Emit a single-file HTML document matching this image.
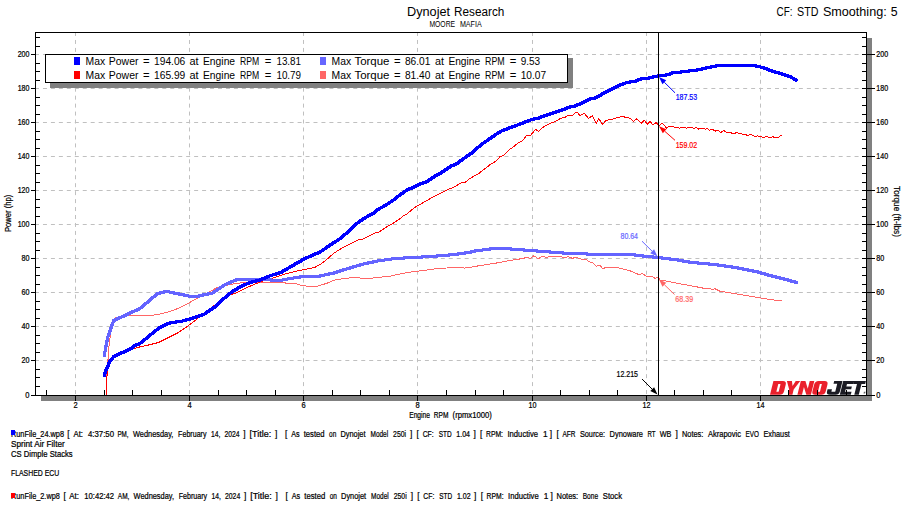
<!DOCTYPE html><html><head><meta charset="utf-8"><title>Dynojet Research</title>
<style>html,body{margin:0;padding:0;background:#fff;}body{width:910px;height:512px;overflow:hidden;font-family:"Liberation Sans",sans-serif;}svg{display:block;}text{font-family:"Liberation Sans",sans-serif;}</style></head><body>
<svg width="910" height="512" viewBox="0 0 910 512">
<rect width="910" height="512" fill="#fff"/>
<g stroke="#c0c0c0" stroke-width="1" stroke-dasharray="4 3.957" fill="none">
<path d="M35 360.5H866"/>
<path d="M35 326.5H866"/>
<path d="M35 292.5H866"/>
<path d="M35 258.5H866"/>
<path d="M35 224.5H866"/>
<path d="M35 190.5H866"/>
<path d="M35 156.5H866"/>
<path d="M35 122.5H866"/>
<path d="M35 88.5H866"/>
<path d="M35 54.5H866"/>
<path d="M75.5 32V395"/>
<path d="M189.5 32V395"/>
<path d="M303.5 32V395"/>
<path d="M417.5 32V395"/>
<path d="M532.5 32V395"/>
<path d="M646.5 32V395"/>
<path d="M760.5 32V395"/>
</g>
<g shape-rendering="crispEdges" fill="#808080">
<rect x="41" y="396" width="831" height="5"/>
<rect x="867" y="38" width="5" height="363"/>
<rect x="50" y="58" width="523" height="30"/>
</g>
<g fill="none" stroke-linejoin="round" stroke-linecap="round" shape-rendering="crispEdges"><path d="M106.10 395.00L106.30 386.00L106.70 378.00L107.60 366.40L108.60 350.00L109.80 339.00L111.70 327.30L114.50 319.00L116.50 317.20L127.25 315.60L140.00 315.60L149.75 315.60L158.50 314.40L168.50 311.90L177.25 308.75L188.50 303.10L198.50 297.50L208.50 292.30L216.25 288.10L225.00 285.70L235.00 283.60L245.00 282.40L260.00 282.10L280.00 282.25L286.25 283.10L295.00 283.50L300.00 285.00L307.50 286.25L317.50 286.25L327.60 283.00L334.60 280.00L345.10 278.30L357.40 277.30L361.00 278.30L369.75 278.30L380.30 277.25L390.80 276.00L397.90 274.30L408.40 272.50L415.40 271.30L422.50 270.75L429.50 269.50L441.80 268.10L459.40 267.75L462.00 266.90L464.60 268.10L470.00 267.30L481.00 265.40L495.00 263.30L509.20 260.60L521.50 258.70L526.80 257.50L530.30 258.40L533.80 255.70L538.20 258.70L542.60 256.25L546.10 257.50L551.40 256.25L560.20 256.25L563.70 258.00L568.10 256.60L572.50 258.40L576.00 257.10L581.30 259.25L586.50 259.75L590.00 262.20L593.60 263.30L596.20 266.30L599.70 265.00L602.40 268.40L609.40 267.10L612.90 268.00L616.40 267.10L620.00 268.40L630.00 270.75L638.75 274.50L642.50 273.75L647.50 277.00L651.25 276.25L655.00 278.25L658.25 277.50L660.00 280.00L665.00 280.75L680.00 283.75L697.50 287.00L706.25 288.75L708.75 288.00L712.50 289.50L715.00 288.75L720.00 291.25L735.00 293.75L750.00 296.25L765.00 298.75L778.75 300.75L781.75 300.25" stroke="#ff6666" stroke-width="1"/><path d="M106.10 395.00L106.20 386.00L106.70 378.10L107.70 370.30L109.30 364.50L111.60 359.60L114.50 356.60L122.50 352.50L130.00 349.80L137.25 347.50L148.50 345.00L158.50 342.50L168.50 337.50L178.50 332.50L188.50 325.60L196.00 320.00L202.25 314.60L208.50 310.00L212.50 306.75L222.50 299.75L231.25 294.40L237.50 292.50L245.00 288.30L252.50 285.20L260.00 282.00L270.00 278.90L280.00 275.80L287.50 273.30L297.50 270.80L303.75 269.75L315.00 267.25L321.00 264.00L326.30 259.90L333.80 253.20L343.90 247.00L352.60 242.60L358.90 239.70L361.40 239.70L367.70 236.80L373.90 233.40L378.90 232.00L387.70 226.20L391.50 224.30L399.00 219.30L404.00 215.50L406.50 214.60L410.30 211.10L415.00 207.25L432.50 197.25L436.10 195.30L446.10 190.40L453.60 187.20L461.20 182.85L464.90 182.50L469.90 178.50L478.70 173.50L483.70 169.70L490.00 164.70L496.20 160.90L500.00 156.60L503.80 155.30L510.00 149.00L512.30 147.90L517.30 143.50L522.30 141.00L526.10 136.00L530.50 135.40L535.50 129.40L538.60 131.60L542.40 127.60L548.60 124.10L554.90 121.60L561.20 118.10L564.30 117.80L568.10 115.30L572.40 115.30L574.90 113.10L577.50 112.60L580.00 115.60L584.30 113.40L588.70 118.50L592.50 115.60L596.30 123.50L598.80 118.50L602.50 124.40L606.30 120.30L610.00 119.50L611.60 119.40L617.90 117.50L622.60 116.60L629.60 118.10L633.50 121.25L636.90 118.60L641.30 123.30L644.40 120.20L647.25 124.10L649.90 121.40L653.00 124.80L656.20 122.50L658.80 125.60L662.50 123.30L664.60 125.40L666.30 128.20L669.10 126.40L671.90 126.40L679.40 128.20L682.20 127.20L686.90 128.20L688.80 127.20L694.40 128.20L696.30 127.20L698.20 129.10L701.00 128.20L705.70 129.10L707.50 128.20L709.40 130.20L712.20 129.40L716.00 131.20L717.90 130.00L720.70 132.80L723.50 130.30L726.30 132.40L734.80 133.40L736.90 132.40L739.00 133.40L747.40 135.20L751.60 134.50L754.50 136.60L757.30 135.90L762.90 137.30L767.10 136.60L769.90 137.70L772.70 136.60L775.60 138.00L778.40 137.30L781.20 135.20" stroke="#ff0000" stroke-width="1"/><path d="M102.8 354.6L106.0 337.1L106.5 336.5L108.5 336.5L109.0 337.1L109.0 338.9L105.8 356.4L105.2 357.0L103.3 357.0L102.8 356.4ZM106.0 337.1L112.2 319.6L112.8 319.0L114.7 319.0L115.2 319.6L115.2 321.4L109.0 338.9L108.5 339.5L106.5 339.5L106.0 338.9ZM112.2 319.6L112.8 319.0L126.5 312.8L128.4 312.8L129.0 313.3L129.0 315.2L128.4 315.8L114.7 322.0L112.8 322.0L112.2 321.4ZM126.0 313.3L126.5 312.8L139.1 307.0L140.9 307.0L141.5 307.6L141.5 309.4L140.9 310.0L128.4 315.8L126.5 315.8L126.0 315.2ZM138.5 307.6L139.1 307.0L149.1 298.5L150.9 298.5L151.5 299.1L151.5 300.9L150.9 301.5L140.9 310.0L139.1 310.0L138.5 309.4ZM148.5 299.1L149.1 298.5L156.6 292.2L158.4 292.2L159.0 292.8L159.0 294.7L158.4 295.2L150.9 301.5L149.1 301.5L148.5 300.9ZM156.0 292.8L156.6 292.2L165.3 289.8L167.2 289.8L167.8 290.3L167.8 292.2L167.2 292.8L158.4 295.2L156.6 295.2L156.0 294.7ZM164.8 290.3L165.3 289.8L167.2 289.8L178.4 292.2L179.0 292.8L179.0 294.7L178.4 295.2L176.6 295.2L165.3 292.8L164.8 292.2ZM176.0 292.8L176.6 292.2L178.4 292.2L190.9 294.8L191.5 295.3L191.5 297.2L190.9 297.8L189.1 297.8L176.6 295.2L176.0 294.7ZM188.5 295.3L189.1 294.8L198.4 294.8L199.0 295.3L199.0 297.2L198.4 297.8L189.1 297.8L188.5 297.2ZM196.0 295.3L196.6 294.8L211.6 291.5L213.4 291.5L214.0 292.1L214.0 293.9L213.4 294.5L198.4 297.8L196.6 297.8L196.0 297.2ZM211.0 292.1L211.6 291.5L224.1 283.2L225.9 283.2L226.5 283.8L226.5 285.7L225.9 286.2L213.4 294.5L211.6 294.5L211.0 293.9ZM223.5 283.8L224.1 283.2L236.6 277.8L238.4 277.8L239.0 278.3L239.0 280.2L238.4 280.8L225.9 286.2L224.1 286.2L223.5 285.7ZM236.0 278.3L236.6 277.8L238.4 277.8L250.9 278.0L251.5 278.6L251.5 280.4L250.9 281.0L249.1 281.0L236.6 280.8L236.0 280.2ZM248.5 278.6L249.1 278.0L250.9 278.0L265.9 278.2L266.5 278.8L266.5 280.7L265.9 281.2L264.1 281.2L249.1 281.0L248.5 280.4ZM263.5 278.8L264.1 278.2L265.9 278.2L280.9 279.0L281.5 279.6L281.5 281.4L280.9 282.0L279.1 282.0L264.1 281.2L263.5 280.7ZM278.5 279.6L279.1 279.0L289.1 277.0L290.9 277.0L291.5 277.6L291.5 279.4L290.9 280.0L280.9 282.0L279.1 282.0L278.5 281.4ZM288.5 277.6L289.1 277.0L302.8 275.0L304.7 275.0L305.2 275.6L305.2 277.4L304.7 278.0L290.9 280.0L289.1 280.0L288.5 279.4ZM302.2 275.6L302.8 275.0L319.1 274.5L320.9 274.5L321.5 275.1L321.5 276.9L320.9 277.5L304.7 278.0L302.8 278.0L302.2 277.4ZM318.5 275.1L319.1 274.5L333.7 271.3L335.6 271.3L336.1 271.9L336.1 273.8L335.6 274.3L320.9 277.5L319.1 277.5L318.5 276.9ZM333.1 271.9L333.7 271.3L347.8 266.8L349.6 266.8L350.2 267.4L350.2 269.2L349.6 269.8L335.6 274.3L333.7 274.3L333.1 273.8ZM347.2 267.4L347.8 266.8L361.8 262.7L363.6 262.7L364.2 263.2L364.2 265.1L363.6 265.7L349.6 269.8L347.8 269.8L347.2 269.2ZM361.2 263.2L361.8 262.7L375.9 259.6L377.8 259.6L378.3 260.2L378.3 262.1L377.8 262.6L363.6 265.7L361.8 265.7L361.2 265.1ZM375.3 260.2L375.9 259.6L393.4 257.1L395.3 257.1L395.9 257.7L395.9 259.6L395.3 260.1L377.8 262.6L375.9 262.6L375.3 262.1ZM392.9 257.7L393.4 257.1L414.4 255.8L416.3 255.8L416.9 256.4L416.9 258.2L416.3 258.8L395.3 260.1L393.4 260.1L392.9 259.6ZM413.9 256.4L414.4 255.8L428.6 255.2L430.4 255.2L431.0 255.8L431.0 257.6L430.4 258.2L416.3 258.8L414.4 258.8L413.9 258.2ZM428.0 255.8L428.6 255.2L440.9 254.1L442.8 254.1L443.3 254.7L443.3 256.6L442.8 257.1L430.4 258.2L428.6 258.2L428.0 257.6ZM440.3 254.7L440.9 254.1L454.9 252.9L456.8 252.9L457.4 253.5L457.4 255.3L456.8 255.9L442.8 257.1L440.9 257.1L440.3 256.6ZM454.4 253.5L454.9 252.9L469.1 250.7L470.9 250.7L471.5 251.2L471.5 253.1L470.9 253.7L456.8 255.9L454.9 255.9L454.4 255.3ZM468.5 251.2L469.1 250.7L474.1 249.5L475.9 249.5L476.5 250.1L476.5 251.9L475.9 252.5L470.9 253.7L469.1 253.7L468.5 253.1ZM473.5 250.1L474.1 249.5L489.1 247.5L490.9 247.5L491.5 248.1L491.5 249.9L490.9 250.5L475.9 252.5L474.1 252.5L473.5 251.9ZM488.5 248.1L489.1 247.5L501.6 246.8L503.4 246.8L504.0 247.3L504.0 249.2L503.4 249.8L490.9 250.5L489.1 250.5L488.5 249.9ZM501.0 247.3L501.6 246.8L503.4 246.8L518.5 248.0L519.0 248.6L519.0 250.4L518.5 251.0L516.5 251.0L501.6 249.8L501.0 249.2ZM516.0 248.6L516.5 248.0L518.5 248.0L533.5 249.2L534.0 249.8L534.0 251.7L533.5 252.2L531.5 252.2L516.5 251.0L516.0 250.4ZM531.0 249.8L531.5 249.2L533.5 249.2L566.0 251.7L566.5 252.2L566.5 254.1L566.0 254.7L564.0 254.7L531.5 252.2L531.0 251.7ZM563.5 252.2L564.0 251.7L566.0 251.7L588.5 252.5L589.0 253.1L589.0 254.9L588.5 255.5L586.5 255.5L564.0 254.7L563.5 254.1ZM586.0 253.1L586.5 252.5L588.5 252.5L613.5 252.9L614.0 253.5L614.0 255.3L613.5 255.9L611.5 255.9L586.5 255.5L586.0 254.9ZM611.0 253.5L611.5 252.9L630.8 252.9L631.3 253.5L631.3 255.3L630.8 255.9L611.5 255.9L611.0 255.3ZM628.3 253.5L628.8 252.9L630.8 252.9L642.6 254.4L643.1 255.0L643.1 256.9L642.6 257.4L640.6 257.4L628.8 255.9L628.3 255.3ZM640.1 255.0L640.6 254.4L642.6 254.4L659.5 256.1L660.0 256.7L660.0 258.6L659.5 259.1L657.5 259.1L640.6 257.4L640.1 256.9ZM657.0 256.7L657.5 256.1L659.5 256.1L676.2 258.1L676.8 258.7L676.8 260.6L676.2 261.1L674.3 261.1L657.5 259.1L657.0 258.6ZM673.8 258.7L674.3 258.1L676.2 258.1L690.1 260.5L690.6 261.1L690.6 262.9L690.1 263.5L688.1 263.5L674.3 261.1L673.8 260.6ZM687.6 261.1L688.1 260.5L690.1 260.5L701.0 261.8L701.5 262.4L701.5 264.2L701.0 264.8L699.0 264.8L688.1 263.5L687.6 262.9ZM698.5 262.4L699.0 261.8L701.0 261.8L716.0 263.0L716.5 263.6L716.5 265.4L716.0 266.0L714.0 266.0L699.0 264.8L698.5 264.2ZM713.5 263.6L714.0 263.0L716.0 263.0L736.0 266.0L736.5 266.6L736.5 268.4L736.0 269.0L734.0 269.0L714.0 266.0L713.5 265.4ZM733.5 266.6L734.0 266.0L736.0 266.0L756.0 269.8L756.5 270.3L756.5 272.2L756.0 272.8L754.0 272.8L734.0 269.0L733.5 268.4ZM753.5 270.3L754.0 269.8L756.0 269.8L771.0 274.0L771.5 274.6L771.5 276.4L771.0 277.0L769.0 277.0L754.0 272.8L753.5 272.2ZM768.5 274.6L769.0 274.0L771.0 274.0L786.0 277.8L786.5 278.3L786.5 280.2L786.0 280.8L784.0 280.8L769.0 277.0L768.5 276.4ZM783.5 278.3L784.0 277.8L786.0 277.8L797.7 281.0L798.2 281.6L798.2 283.4L797.7 284.0L795.8 284.0L784.0 280.8L783.5 280.2Z" fill="#6464ff" fill-rule="nonzero"/><path d="M102.8 374.6L104.0 370.1L104.5 369.5L106.5 369.5L107.0 370.1L107.0 371.9L105.8 376.4L105.2 377.0L103.3 377.0L102.8 376.4ZM104.0 370.1L106.0 365.8L106.5 365.2L108.5 365.2L109.0 365.8L109.0 367.7L107.0 371.9L106.5 372.5L104.5 372.5L104.0 371.9ZM106.0 365.8L108.5 360.1L109.0 359.5L111.0 359.5L111.5 360.1L111.5 361.9L109.0 367.7L108.5 368.2L106.5 368.2L106.0 367.7ZM108.5 360.1L112.2 355.8L112.8 355.2L114.7 355.2L115.2 355.8L115.2 357.7L111.5 361.9L111.0 362.5L109.0 362.5L108.5 361.9ZM112.2 355.8L112.8 355.2L117.0 353.0L119.0 353.0L119.5 353.6L119.5 355.4L119.0 356.0L114.7 358.2L112.8 358.2L112.2 357.7ZM116.5 353.6L117.0 353.0L121.5 351.0L123.5 351.0L124.0 351.6L124.0 353.4L123.5 354.0L119.0 356.0L117.0 356.0L116.5 355.4ZM121.0 351.6L121.5 351.0L129.1 347.8L130.9 347.8L131.5 348.3L131.5 350.2L130.9 350.8L123.5 354.0L121.5 354.0L121.0 353.4ZM128.5 348.3L129.1 347.8L134.1 344.0L135.9 344.0L136.5 344.6L136.5 346.4L135.9 347.0L130.9 350.8L129.1 350.8L128.5 350.2ZM133.5 344.6L134.1 344.0L139.1 342.0L140.9 342.0L141.5 342.6L141.5 344.4L140.9 345.0L135.9 347.0L134.1 347.0L133.5 346.4ZM138.5 342.6L139.1 342.0L149.1 333.8L150.9 333.8L151.5 334.4L151.5 336.2L150.9 336.8L140.9 345.0L139.1 345.0L138.5 344.4ZM148.5 334.4L149.1 333.8L157.6 326.8L159.4 326.8L160.0 327.4L160.0 329.2L159.4 329.8L150.9 336.8L149.1 336.8L148.5 336.2ZM157.0 327.4L157.6 326.8L165.1 323.0L166.9 323.0L167.5 323.6L167.5 325.4L166.9 326.0L159.4 329.8L157.6 329.8L157.0 329.2ZM164.5 323.6L165.1 323.0L170.1 321.1L171.9 321.1L172.5 321.7L172.5 323.6L171.9 324.1L166.9 326.0L165.1 326.0L164.5 325.4ZM169.5 321.7L170.1 321.1L180.1 319.9L181.9 319.9L182.5 320.4L182.5 322.3L181.9 322.9L171.9 324.1L170.1 324.1L169.5 323.6ZM179.5 320.4L180.1 319.9L189.1 317.5L190.9 317.5L191.5 318.1L191.5 319.9L190.9 320.5L181.9 322.9L180.1 322.9L179.5 322.3ZM188.5 318.1L189.1 317.5L196.6 315.1L198.4 315.1L199.0 315.7L199.0 317.6L198.4 318.1L190.9 320.5L189.1 320.5L188.5 319.9ZM196.0 315.7L196.6 315.1L202.8 313.0L204.7 313.0L205.2 313.6L205.2 315.4L204.7 316.0L198.4 318.1L196.6 318.1L196.0 317.6ZM202.2 313.6L202.8 313.0L208.2 309.3L210.0 309.3L210.6 309.9L210.6 311.8L210.0 312.3L204.7 316.0L202.8 316.0L202.2 315.4ZM207.6 309.9L208.2 309.3L211.6 306.9L213.4 306.9L214.0 307.4L214.0 309.3L213.4 309.9L210.0 312.3L208.2 312.3L207.6 311.8ZM211.0 307.4L211.6 306.9L214.1 305.4L215.9 305.4L216.5 305.9L216.5 307.8L215.9 308.4L213.4 309.9L211.6 309.9L211.0 309.3ZM213.5 305.9L214.1 305.4L222.8 297.2L224.7 297.2L225.2 297.8L225.2 299.7L224.7 300.2L215.9 308.4L214.1 308.4L213.5 307.8ZM222.2 297.8L222.8 297.2L231.6 289.9L233.4 289.9L234.0 290.4L234.0 292.3L233.4 292.9L224.7 300.2L222.8 300.2L222.2 299.7ZM231.0 290.4L231.6 289.9L240.3 284.9L242.2 284.9L242.8 285.4L242.8 287.3L242.2 287.9L233.4 292.9L231.6 292.9L231.0 292.3ZM239.8 285.4L240.3 284.9L249.1 280.9L250.9 280.9L251.5 281.4L251.5 283.3L250.9 283.9L242.2 287.9L240.3 287.9L239.8 287.3ZM248.5 281.4L249.1 280.9L259.1 278.5L260.9 278.5L261.5 279.1L261.5 280.9L260.9 281.5L250.9 283.9L249.1 283.9L248.5 283.3ZM258.5 279.1L259.1 278.5L269.1 274.3L270.9 274.3L271.5 274.9L271.5 276.8L270.9 277.3L260.9 281.5L259.1 281.5L258.5 280.9ZM268.5 274.9L269.1 274.3L280.3 270.8L282.2 270.8L282.8 271.3L282.8 273.2L282.2 273.8L270.9 277.3L269.1 277.3L268.5 276.8ZM279.8 271.3L280.3 270.8L289.1 265.6L290.9 265.6L291.5 266.2L291.5 268.1L290.9 268.6L282.2 273.8L280.3 273.8L279.8 273.2ZM288.5 266.2L289.1 265.6L296.6 261.3L298.4 261.3L299.0 261.9L299.0 263.8L298.4 264.3L290.9 268.6L289.1 268.6L288.5 268.1ZM296.0 261.9L296.6 261.3L302.9 257.7L304.8 257.7L305.3 258.2L305.3 260.1L304.8 260.7L298.4 264.3L296.6 264.3L296.0 263.8ZM302.3 258.2L302.9 257.7L311.6 253.7L313.4 253.7L314.0 254.2L314.0 256.1L313.4 256.7L304.8 260.7L302.9 260.7L302.3 260.1ZM311.0 254.2L311.6 253.7L319.1 250.5L320.9 250.5L321.5 251.1L321.5 252.9L320.9 253.5L313.4 256.7L311.6 256.7L311.0 256.1ZM318.5 251.1L319.1 250.5L329.2 243.7L331.1 243.7L331.6 244.2L331.6 246.1L331.1 246.7L320.9 253.5L319.1 253.5L318.5 252.9ZM328.6 244.2L329.2 243.7L340.4 236.3L342.3 236.3L342.9 236.9L342.9 238.8L342.3 239.3L331.1 246.7L329.2 246.7L328.6 246.1ZM339.9 236.9L340.4 236.3L347.9 229.5L349.8 229.5L350.4 230.1L350.4 231.9L349.8 232.5L342.3 239.3L340.4 239.3L339.9 238.8ZM347.4 230.1L347.9 229.5L356.7 221.4L358.6 221.4L359.1 222.0L359.1 223.8L358.6 224.4L349.8 232.5L347.9 232.5L347.4 231.9ZM356.1 222.0L356.7 221.4L364.2 216.2L366.1 216.2L366.7 216.8L366.7 218.6L366.1 219.2L358.6 224.4L356.7 224.4L356.1 223.8ZM363.7 216.8L364.2 216.2L371.8 212.3L373.6 212.3L374.2 212.9L374.2 214.8L373.6 215.3L366.1 219.2L364.2 219.2L363.7 218.6ZM371.2 212.9L371.8 212.3L376.8 208.0L378.6 208.0L379.2 208.6L379.2 210.4L378.6 211.0L373.6 215.3L371.8 215.3L371.2 214.8ZM376.2 208.6L376.8 208.0L384.2 204.1L386.1 204.1L386.7 204.7L386.7 206.5L386.1 207.1L378.6 211.0L376.8 211.0L376.2 210.4ZM383.7 204.7L384.2 204.1L391.8 199.1L393.6 199.1L394.2 199.7L394.2 201.5L393.6 202.1L386.1 207.1L384.2 207.1L383.7 206.5ZM391.2 199.7L391.8 199.1L398.1 194.1L399.9 194.1L400.5 194.7L400.5 196.5L399.9 197.1L393.6 202.1L391.8 202.1L391.2 201.5ZM397.5 194.7L398.1 194.1L406.4 188.3L408.2 188.3L408.8 188.9L408.8 190.8L408.2 191.3L399.9 197.1L398.1 197.1L397.5 196.5ZM405.8 188.9L406.4 188.3L415.1 184.7L416.9 184.7L417.5 185.2L417.5 187.1L416.9 187.7L408.2 191.3L406.4 191.3L405.8 190.8ZM414.5 185.2L415.1 184.7L420.2 182.1L422.1 182.1L422.6 182.7L422.6 184.5L422.1 185.1L416.9 187.7L415.1 187.7L414.5 187.1ZM419.6 182.7L420.2 182.1L425.2 180.7L427.1 180.7L427.6 181.2L427.6 183.1L427.1 183.7L422.1 185.1L420.2 185.1L419.6 184.5ZM424.6 181.2L425.2 180.7L435.2 173.9L437.1 173.9L437.6 174.5L437.6 176.3L437.1 176.9L427.1 183.7L425.2 183.7L424.6 183.1ZM434.6 174.5L435.2 173.9L440.2 171.4L442.1 171.4L442.6 172.0L442.6 173.8L442.1 174.4L437.1 176.9L435.2 176.9L434.6 176.3ZM439.6 172.0L440.2 171.4L450.2 164.5L452.1 164.5L452.6 165.1L452.6 166.9L452.1 167.5L442.1 174.4L440.2 174.4L439.6 173.8ZM449.6 165.1L450.2 164.5L455.2 162.6L457.1 162.6L457.7 163.2L457.7 165.0L457.1 165.6L452.1 167.5L450.2 167.5L449.6 166.9ZM454.7 163.2L455.2 162.6L462.8 157.0L464.6 157.0L465.2 157.6L465.2 159.4L464.6 160.0L457.1 165.6L455.2 165.6L454.7 165.0ZM462.2 157.6L462.8 157.0L470.2 152.0L472.1 152.0L472.7 152.6L472.7 154.4L472.1 155.0L464.6 160.0L462.8 160.0L462.2 159.4ZM469.7 152.6L470.2 152.0L476.6 146.4L478.4 146.4L479.0 147.0L479.0 148.8L478.4 149.4L472.1 155.0L470.2 155.0L469.7 154.4ZM476.0 147.0L476.6 146.4L482.8 141.4L484.6 141.4L485.2 142.0L485.2 143.8L484.6 144.4L478.4 149.4L476.6 149.4L476.0 148.8ZM482.2 142.0L482.8 141.4L490.2 136.3L492.1 136.3L492.7 136.9L492.7 138.8L492.1 139.3L484.6 144.4L482.8 144.4L482.2 143.8ZM489.7 136.9L490.2 136.3L495.1 132.8L496.9 132.8L497.5 133.4L497.5 135.2L496.9 135.8L492.1 139.3L490.2 139.3L489.7 138.8ZM494.5 133.4L495.1 132.8L501.4 129.1L503.2 129.1L503.8 129.7L503.8 131.5L503.2 132.1L496.9 135.8L495.1 135.8L494.5 135.2ZM500.8 129.7L501.4 129.1L510.1 125.9L511.9 125.9L512.5 126.5L512.5 128.3L511.9 128.9L503.2 132.1L501.4 132.1L500.8 131.5ZM509.5 126.5L510.1 125.9L520.1 122.2L522.1 122.2L522.6 122.8L522.6 124.7L522.1 125.2L511.9 128.9L510.1 128.9L509.5 128.3ZM519.6 122.8L520.1 122.2L531.3 117.8L533.2 117.8L533.8 118.3L533.8 120.2L533.2 120.8L522.1 125.2L520.1 125.2L519.6 124.7ZM530.8 118.3L531.3 117.8L536.4 117.1L538.4 117.1L538.9 117.6L538.9 119.5L538.4 120.1L533.2 120.8L531.3 120.8L530.8 120.2ZM535.9 117.6L536.4 117.1L542.6 114.6L544.6 114.6L545.1 115.1L545.1 117.0L544.6 117.6L538.4 120.1L536.4 120.1L535.9 119.5ZM542.1 115.1L542.6 114.6L550.1 112.0L552.1 112.0L552.6 112.5L552.6 114.5L552.1 115.0L544.6 117.6L542.6 117.6L542.1 117.0ZM549.6 112.5L550.1 112.0L560.2 108.9L562.2 108.9L562.7 109.5L562.7 111.4L562.2 111.9L552.1 115.0L550.1 115.0L549.6 114.5ZM559.7 109.5L560.2 108.9L567.8 105.8L569.7 105.8L570.2 106.3L570.2 108.2L569.7 108.8L562.2 111.9L560.2 111.9L559.7 111.4ZM567.2 106.3L567.8 105.8L573.9 104.5L575.9 104.5L576.4 105.0L576.4 107.0L575.9 107.5L569.7 108.8L567.8 108.8L567.2 108.2ZM573.4 105.0L573.9 104.5L582.8 100.8L584.7 100.8L585.2 101.3L585.2 103.2L584.7 103.8L575.9 107.5L573.9 107.5L573.4 107.0ZM582.2 101.3L582.8 100.8L589.0 97.6L591.0 97.6L591.5 98.1L591.5 100.0L591.0 100.6L584.7 103.8L582.8 103.8L582.2 103.2ZM588.5 98.1L589.0 97.6L594.0 96.5L596.0 96.5L596.5 97.0L596.5 99.0L596.0 99.5L591.0 100.6L589.0 100.6L588.5 100.0ZM593.5 97.0L594.0 96.5L600.3 93.3L602.2 93.3L602.8 93.8L602.8 95.8L602.2 96.3L596.0 99.5L594.0 99.5L593.5 99.0ZM599.8 93.8L600.3 93.3L602.8 91.5L604.8 91.5L605.3 92.0L605.3 94.0L604.8 94.5L602.2 96.3L600.3 96.3L599.8 95.8ZM602.3 92.0L602.8 91.5L610.6 87.5L612.6 87.5L613.1 88.0L613.1 90.0L612.6 90.5L604.8 94.5L602.8 94.5L602.3 94.0ZM610.1 88.0L610.6 87.5L618.4 83.9L620.4 83.9L620.9 84.5L620.9 86.4L620.4 86.9L612.6 90.5L610.6 90.5L610.1 90.0ZM617.9 84.5L618.4 83.9L626.3 80.8L628.2 80.8L628.8 81.3L628.8 83.2L628.2 83.8L620.4 86.9L618.4 86.9L617.9 86.4ZM625.8 81.3L626.3 80.8L632.5 80.2L634.5 80.2L635.0 80.8L635.0 82.7L634.5 83.2L628.2 83.8L626.3 83.8L625.8 83.2ZM632.0 80.8L632.5 80.2L641.9 77.0L643.9 77.0L644.4 77.5L644.4 79.5L643.9 80.0L634.5 83.2L632.5 83.2L632.0 82.7ZM641.4 77.5L641.9 77.0L648.1 76.5L650.1 76.5L650.6 77.0L650.6 79.0L650.1 79.5L643.9 80.0L641.9 80.0L641.4 79.5ZM647.6 77.0L648.1 76.5L657.5 74.3L659.5 74.3L660.0 74.8L660.0 76.8L659.5 77.3L650.1 79.5L648.1 79.5L647.6 79.0ZM657.0 74.8L657.5 74.3L666.9 73.3L668.9 73.3L669.4 73.8L669.4 75.8L668.9 76.3L659.5 77.3L657.5 77.3L657.0 76.8ZM666.4 73.8L666.9 73.3L671.6 71.4L673.6 71.4L674.1 72.0L674.1 73.9L673.6 74.4L668.9 76.3L666.9 76.3L666.4 75.8ZM671.1 72.0L671.6 71.4L682.5 70.2L684.5 70.2L685.0 70.8L685.0 72.7L684.5 73.2L673.6 74.4L671.6 74.4L671.1 73.9ZM682.0 70.8L682.5 70.2L695.0 68.7L697.0 68.7L697.5 69.2L697.5 71.2L697.0 71.7L684.5 73.2L682.5 73.2L682.0 72.7ZM694.5 69.2L695.0 68.7L704.0 66.8L706.0 66.8L706.5 67.3L706.5 69.2L706.0 69.8L697.0 71.7L695.0 71.7L694.5 71.2ZM703.5 67.3L704.0 66.8L711.0 65.2L713.0 65.2L713.5 65.8L713.5 67.7L713.0 68.2L706.0 69.8L704.0 69.8L703.5 69.2ZM710.5 65.8L711.0 65.2L717.2 64.0L719.2 64.0L719.7 64.5L719.7 66.5L719.2 67.0L713.0 68.2L711.0 68.2L710.5 67.7ZM716.7 64.5L717.2 64.0L736.0 64.0L736.5 64.5L736.5 66.5L736.0 67.0L717.2 67.0L716.7 66.5ZM733.5 64.5L734.0 64.0L754.4 64.0L754.9 64.5L754.9 66.5L754.4 67.0L734.0 67.0L733.5 66.5ZM751.9 64.5L752.4 64.0L754.4 64.0L759.0 64.8L759.5 65.3L759.5 67.2L759.0 67.8L757.0 67.8L752.4 67.0L751.9 66.5ZM756.5 65.3L757.0 64.8L759.0 64.8L764.7 66.4L765.2 67.0L765.2 68.9L764.7 69.4L762.8 69.4L757.0 67.8L756.5 67.2ZM762.2 67.0L762.8 66.4L764.7 66.4L772.2 69.3L772.7 69.8L772.7 71.8L772.2 72.3L770.2 72.3L762.8 69.4L762.2 68.9ZM769.7 69.8L770.2 69.3L772.2 69.3L784.7 72.9L785.2 73.5L785.2 75.4L784.7 75.9L782.8 75.9L770.2 72.3L769.7 71.8ZM782.2 73.5L782.8 72.9L784.7 72.9L792.2 75.7L792.7 76.2L792.7 78.2L792.2 78.7L790.2 78.7L782.8 75.9L782.2 75.4ZM789.7 76.2L790.2 75.7L792.2 75.7L797.2 78.8L797.8 79.3L797.8 81.2L797.2 81.8L795.3 81.8L790.2 78.7L789.7 78.2Z" fill="#0000ff" fill-rule="nonzero"/></g>
<g transform="translate(770 394.8) skewX(-13.8)" fill-rule="evenodd">
<g fill="#ea202c">
<path d="M0 0H9.5Q13.2 0 13.2 -3.5V-10.4Q13.2 -13.9 9.5 -13.9H0ZM5.6 -3H7.4Q7.9 -3 7.9 -3.5V-10.4Q7.9 -10.9 7.4 -10.9H5.6Z"/>
<path transform="translate(13.5 0)" d="M0 -13.9H5L6.9 -8.8L8.8 -13.9H13.3L8.9 -5.2V0H4.4V-5.2Z"/>
<path transform="translate(27.4 0)" d="M0 0V-13.9H4.6L8.9 -6V-13.9H13.5V0H8.9L4.6 -7.9V0Z"/>
<path transform="translate(41.6 0)" d="M3.6 0H9.7Q13.3 0 13.3 -3.5V-10.4Q13.3 -13.9 9.7 -13.9H3.6Q0 -13.9 0 -10.4V-3.5Q0 0 3.6 0ZM5.6 -3H7.6V-10.9H5.6Z"/>
</g>
<g fill="#1b1b23">
<path transform="translate(56.2 0)" d="M0 -5.6H4.4V-3.6Q4.4 -3 5 -3H7.7Q8.3 -3 8.3 -3.6V-11H4.6V-13.9H12.9V-3.5Q12.9 0 9.4 0H3.5Q0 0 0 -3.5Z"/>
<path transform="translate(69.8 0)" d="M0 0V-13.9H11V-10.9H4.5V-8.4H10V-5.6H4.5V-3H11V0Z"/>
<path transform="translate(80.6 0)" d="M0 -13.9H11.9V-10.9H8.2V0H3.7V-10.9H0Z"/>
<rect x="93.2" y="-3" width="1.6" height="1.8" fill="#666"/>
</g>
</g>

<g shape-rendering="crispEdges"><rect x="658" y="32" width="1" height="363" fill="#000"/></g>
<g shape-rendering="crispEdges" fill="#000">
<rect x="35" y="32" width="832" height="1"/>
<rect x="35" y="395" width="832" height="1"/>
<rect x="35" y="32" width="1" height="364"/>
<rect x="866" y="32" width="1" height="364"/>
<rect x="31" y="395" width="4" height="1"/>
<rect x="862" y="395" width="13" height="1"/>
<rect x="36" y="386" width="4" height="1"/>
<rect x="862" y="386" width="4" height="1"/>
<rect x="36" y="377" width="4" height="1"/>
<rect x="862" y="377" width="4" height="1"/>
<rect x="36" y="369" width="4" height="1"/>
<rect x="862" y="369" width="4" height="1"/>
<rect x="31" y="360" width="4" height="1"/>
<rect x="862" y="360" width="13" height="1"/>
<rect x="36" y="352" width="4" height="1"/>
<rect x="862" y="352" width="4" height="1"/>
<rect x="36" y="343" width="4" height="1"/>
<rect x="862" y="343" width="4" height="1"/>
<rect x="36" y="335" width="4" height="1"/>
<rect x="862" y="335" width="4" height="1"/>
<rect x="31" y="326" width="4" height="1"/>
<rect x="862" y="326" width="13" height="1"/>
<rect x="36" y="318" width="4" height="1"/>
<rect x="862" y="318" width="4" height="1"/>
<rect x="36" y="309" width="4" height="1"/>
<rect x="862" y="309" width="4" height="1"/>
<rect x="36" y="301" width="4" height="1"/>
<rect x="862" y="301" width="4" height="1"/>
<rect x="31" y="292" width="4" height="1"/>
<rect x="862" y="292" width="13" height="1"/>
<rect x="36" y="284" width="4" height="1"/>
<rect x="862" y="284" width="4" height="1"/>
<rect x="36" y="275" width="4" height="1"/>
<rect x="862" y="275" width="4" height="1"/>
<rect x="36" y="267" width="4" height="1"/>
<rect x="862" y="267" width="4" height="1"/>
<rect x="31" y="258" width="4" height="1"/>
<rect x="862" y="258" width="13" height="1"/>
<rect x="36" y="250" width="4" height="1"/>
<rect x="862" y="250" width="4" height="1"/>
<rect x="36" y="241" width="4" height="1"/>
<rect x="862" y="241" width="4" height="1"/>
<rect x="36" y="233" width="4" height="1"/>
<rect x="862" y="233" width="4" height="1"/>
<rect x="31" y="224" width="4" height="1"/>
<rect x="862" y="224" width="13" height="1"/>
<rect x="36" y="216" width="4" height="1"/>
<rect x="862" y="216" width="4" height="1"/>
<rect x="36" y="207" width="4" height="1"/>
<rect x="862" y="207" width="4" height="1"/>
<rect x="36" y="199" width="4" height="1"/>
<rect x="862" y="199" width="4" height="1"/>
<rect x="31" y="190" width="4" height="1"/>
<rect x="862" y="190" width="13" height="1"/>
<rect x="36" y="182" width="4" height="1"/>
<rect x="862" y="182" width="4" height="1"/>
<rect x="36" y="173" width="4" height="1"/>
<rect x="862" y="173" width="4" height="1"/>
<rect x="36" y="165" width="4" height="1"/>
<rect x="862" y="165" width="4" height="1"/>
<rect x="31" y="156" width="4" height="1"/>
<rect x="862" y="156" width="13" height="1"/>
<rect x="36" y="148" width="4" height="1"/>
<rect x="862" y="148" width="4" height="1"/>
<rect x="36" y="139" width="4" height="1"/>
<rect x="862" y="139" width="4" height="1"/>
<rect x="36" y="131" width="4" height="1"/>
<rect x="862" y="131" width="4" height="1"/>
<rect x="31" y="122" width="4" height="1"/>
<rect x="862" y="122" width="13" height="1"/>
<rect x="36" y="114" width="4" height="1"/>
<rect x="862" y="114" width="4" height="1"/>
<rect x="36" y="105" width="4" height="1"/>
<rect x="862" y="105" width="4" height="1"/>
<rect x="36" y="97" width="4" height="1"/>
<rect x="862" y="97" width="4" height="1"/>
<rect x="31" y="88" width="4" height="1"/>
<rect x="862" y="88" width="13" height="1"/>
<rect x="36" y="80" width="4" height="1"/>
<rect x="862" y="80" width="4" height="1"/>
<rect x="36" y="71" width="4" height="1"/>
<rect x="862" y="71" width="4" height="1"/>
<rect x="36" y="63" width="4" height="1"/>
<rect x="862" y="63" width="4" height="1"/>
<rect x="31" y="54" width="4" height="1"/>
<rect x="862" y="54" width="13" height="1"/>
<rect x="36" y="46" width="4" height="1"/>
<rect x="862" y="46" width="4" height="1"/>
<rect x="36" y="37" width="4" height="1"/>
<rect x="862" y="37" width="4" height="1"/>
<rect x="46" y="390" width="1" height="5"/>
<rect x="75" y="396" width="1" height="5"/>
<rect x="104" y="390" width="1" height="5"/>
<rect x="132" y="390" width="1" height="5"/>
<rect x="161" y="390" width="1" height="5"/>
<rect x="189" y="396" width="1" height="5"/>
<rect x="218" y="390" width="1" height="5"/>
<rect x="246" y="390" width="1" height="5"/>
<rect x="275" y="390" width="1" height="5"/>
<rect x="303" y="396" width="1" height="5"/>
<rect x="332" y="390" width="1" height="5"/>
<rect x="360" y="390" width="1" height="5"/>
<rect x="389" y="390" width="1" height="5"/>
<rect x="417" y="396" width="1" height="5"/>
<rect x="446" y="390" width="1" height="5"/>
<rect x="475" y="390" width="1" height="5"/>
<rect x="503" y="390" width="1" height="5"/>
<rect x="532" y="396" width="1" height="5"/>
<rect x="560" y="390" width="1" height="5"/>
<rect x="589" y="390" width="1" height="5"/>
<rect x="617" y="390" width="1" height="5"/>
<rect x="646" y="396" width="1" height="5"/>
<rect x="674" y="390" width="1" height="5"/>
<rect x="703" y="390" width="1" height="5"/>
<rect x="731" y="390" width="1" height="5"/>
<rect x="760" y="396" width="1" height="5"/>
<rect x="788" y="390" width="1" height="5"/>
<rect x="817" y="390" width="1" height="5"/>
<rect x="846" y="390" width="1" height="5"/>
</g>
<g font-size="8.3" fill="#000" stroke="#000" stroke-width="0.22">
<text x="25.3" y="398.0" textLength="4.2" lengthAdjust="spacingAndGlyphs">0</text>
<text x="876.3" y="398.0" textLength="4.2" lengthAdjust="spacingAndGlyphs">0</text>
<text x="21.5" y="363.0" textLength="8.0" lengthAdjust="spacingAndGlyphs">20</text>
<text x="876.3" y="363.0" textLength="8.0" lengthAdjust="spacingAndGlyphs">20</text>
<text x="21.5" y="329.0" textLength="8.0" lengthAdjust="spacingAndGlyphs">40</text>
<text x="876.3" y="329.0" textLength="8.0" lengthAdjust="spacingAndGlyphs">40</text>
<text x="21.5" y="295.0" textLength="8.0" lengthAdjust="spacingAndGlyphs">60</text>
<text x="876.3" y="295.0" textLength="8.0" lengthAdjust="spacingAndGlyphs">60</text>
<text x="21.5" y="261.0" textLength="8.0" lengthAdjust="spacingAndGlyphs">80</text>
<text x="876.3" y="261.0" textLength="8.0" lengthAdjust="spacingAndGlyphs">80</text>
<text x="17.7" y="227.0" textLength="11.8" lengthAdjust="spacingAndGlyphs">100</text>
<text x="876.3" y="227.0" textLength="11.8" lengthAdjust="spacingAndGlyphs">100</text>
<text x="17.7" y="193.0" textLength="11.8" lengthAdjust="spacingAndGlyphs">120</text>
<text x="876.3" y="193.0" textLength="11.8" lengthAdjust="spacingAndGlyphs">120</text>
<text x="17.7" y="159.0" textLength="11.8" lengthAdjust="spacingAndGlyphs">140</text>
<text x="876.3" y="159.0" textLength="11.8" lengthAdjust="spacingAndGlyphs">140</text>
<text x="17.7" y="125.0" textLength="11.8" lengthAdjust="spacingAndGlyphs">160</text>
<text x="876.3" y="125.0" textLength="11.8" lengthAdjust="spacingAndGlyphs">160</text>
<text x="17.7" y="91.0" textLength="11.8" lengthAdjust="spacingAndGlyphs">180</text>
<text x="876.3" y="91.0" textLength="11.8" lengthAdjust="spacingAndGlyphs">180</text>
<text x="17.7" y="57.0" textLength="11.8" lengthAdjust="spacingAndGlyphs">200</text>
<text x="876.3" y="57.0" textLength="11.8" lengthAdjust="spacingAndGlyphs">200</text>
<text x="73.4" y="408" textLength="4.2" lengthAdjust="spacingAndGlyphs">2</text>
<text x="187.4" y="408" textLength="4.2" lengthAdjust="spacingAndGlyphs">4</text>
<text x="301.4" y="408" textLength="4.2" lengthAdjust="spacingAndGlyphs">6</text>
<text x="415.4" y="408" textLength="4.2" lengthAdjust="spacingAndGlyphs">8</text>
<text x="528.5" y="408" textLength="8.0" lengthAdjust="spacingAndGlyphs">10</text>
<text x="642.5" y="408" textLength="8.0" lengthAdjust="spacingAndGlyphs">12</text>
<text x="756.5" y="408" textLength="8.0" lengthAdjust="spacingAndGlyphs">14</text>
</g>
<g font-size="8.3" stroke="#000" stroke-width="0.22"><text x="409.2" y="418.2" textLength="20.8" lengthAdjust="spacingAndGlyphs">Engine</text><text x="433.7" y="418.2" textLength="14.7" lengthAdjust="spacingAndGlyphs">RPM</text><text x="452.6" y="418.2" textLength="39.2" lengthAdjust="spacingAndGlyphs">(rpmx1000)</text></g>
<text font-size="8.3" stroke="#000" stroke-width="0.2" transform="translate(11.2 232) rotate(-90)" textLength="37.2" lengthAdjust="spacingAndGlyphs">Power (hp)</text>
<text font-size="8.3" stroke="#000" stroke-width="0.2" transform="translate(894.2 186) rotate(90)" textLength="51" lengthAdjust="spacingAndGlyphs">Torque (ft-lbs)</text>
<text font-size="12.3" x="407" y="15.6" textLength="43.1" lengthAdjust="spacingAndGlyphs">Dynojet</text><text font-size="12.3" x="454.1" y="15.6" textLength="50.3" lengthAdjust="spacingAndGlyphs">Research</text>
<text font-size="8.3" x="429.4" y="26.8" textLength="25.7" lengthAdjust="spacingAndGlyphs">MOORE</text><text font-size="8.3" x="459.9" y="26.8" textLength="21.8" lengthAdjust="spacingAndGlyphs">MAFIA</text>
<g font-size="12.3"><text x="776.5" y="16" textLength="16" lengthAdjust="spacingAndGlyphs">CF:</text><text x="797.1" y="16" textLength="21.4" lengthAdjust="spacingAndGlyphs">STD</text><text x="822.9" y="16" textLength="63.8" lengthAdjust="spacingAndGlyphs">Smoothing:</text><text x="890.8" y="16">5</text></g>
<g shape-rendering="crispEdges">
<rect x="45.5" y="54.5" width="522" height="28" fill="#fff" stroke="#000" stroke-width="1"/>
<rect x="74" y="57" width="6" height="8" fill="#0000ff"/>
<rect x="74" y="71" width="6" height="8" fill="#ff0000"/>
<rect x="320" y="57" width="6" height="8" fill="#6666ff"/>
<rect x="320" y="71" width="6" height="8" fill="#ff6666"/>
</g>
<g font-size="11.3" fill="#000">
<text x="85.5" y="65" textLength="19.6" lengthAdjust="spacingAndGlyphs">Max</text>
<text x="108.8" y="65" textLength="29.7" lengthAdjust="spacingAndGlyphs">Power</text>
<text x="143" y="65">=</text>
<text x="154" y="65" textLength="31.3" lengthAdjust="spacingAndGlyphs">194.06</text>
<text x="189.4" y="65" textLength="9.1" lengthAdjust="spacingAndGlyphs">at</text>
<text x="203" y="65" textLength="32.1" lengthAdjust="spacingAndGlyphs">Engine</text>
<text x="240.1" y="65" textLength="19.2" lengthAdjust="spacingAndGlyphs">RPM</text>
<text x="264.7" y="65">=</text>
<text x="276.4" y="65" textLength="24.7" lengthAdjust="spacingAndGlyphs">13.81</text>
<text x="85.5" y="79" textLength="19.6" lengthAdjust="spacingAndGlyphs">Max</text>
<text x="108.8" y="79" textLength="29.7" lengthAdjust="spacingAndGlyphs">Power</text>
<text x="143" y="79">=</text>
<text x="154" y="79" textLength="31.3" lengthAdjust="spacingAndGlyphs">165.99</text>
<text x="189.4" y="79" textLength="9.1" lengthAdjust="spacingAndGlyphs">at</text>
<text x="203" y="79" textLength="32.1" lengthAdjust="spacingAndGlyphs">Engine</text>
<text x="240.1" y="79" textLength="19.2" lengthAdjust="spacingAndGlyphs">RPM</text>
<text x="264.7" y="79">=</text>
<text x="276.4" y="79" textLength="24.7" lengthAdjust="spacingAndGlyphs">10.79</text>
<text x="331.5" y="65" textLength="19.6" lengthAdjust="spacingAndGlyphs">Max</text>
<text x="354.4" y="65" textLength="35.1" lengthAdjust="spacingAndGlyphs">Torque</text>
<text x="394" y="65">=</text>
<text x="404.9" y="65" textLength="25.5" lengthAdjust="spacingAndGlyphs">86.01</text>
<text x="435" y="65" textLength="9.0" lengthAdjust="spacingAndGlyphs">at</text>
<text x="448.4" y="65" textLength="31.7" lengthAdjust="spacingAndGlyphs">Engine</text>
<text x="485.1" y="65" textLength="19.6" lengthAdjust="spacingAndGlyphs">RPM</text>
<text x="509.8" y="65">=</text>
<text x="520.7" y="65" textLength="19.5" lengthAdjust="spacingAndGlyphs">9.53</text>
<text x="331.5" y="79" textLength="19.6" lengthAdjust="spacingAndGlyphs">Max</text>
<text x="354.4" y="79" textLength="35.1" lengthAdjust="spacingAndGlyphs">Torque</text>
<text x="394" y="79">=</text>
<text x="404.9" y="79" textLength="25.5" lengthAdjust="spacingAndGlyphs">81.40</text>
<text x="435" y="79" textLength="9.0" lengthAdjust="spacingAndGlyphs">at</text>
<text x="448.4" y="79" textLength="31.7" lengthAdjust="spacingAndGlyphs">Engine</text>
<text x="485.1" y="79" textLength="19.6" lengthAdjust="spacingAndGlyphs">RPM</text>
<text x="509.8" y="79">=</text>
<text x="520.7" y="79" textLength="25.4" lengthAdjust="spacingAndGlyphs">10.07</text>
</g>
<path d="M664.34 82.27L675 92.8" stroke="#0000ff" stroke-width="1" fill="none"/><path d="M659 77L662.44 84.19L666.23 80.35Z" fill="#0000ff"/>
<path d="M664.63 131.16L675 140.3" stroke="#ff0000" stroke-width="1" fill="none"/><path d="M659 126.2L662.84 133.18L666.41 129.13Z" fill="#ff0000"/>
<path d="M652.16 251.23L642 241.2" stroke="#6666ff" stroke-width="1" fill="none"/><path d="M657.5 256.5L654.06 249.31L650.27 253.15Z" fill="#6666ff"/>
<path d="M664.39 284.72L674.5 294.5" stroke="#ff6666" stroke-width="1" fill="none"/><path d="M659 279.5L662.51 286.66L666.27 282.78Z" fill="#ff6666"/>
<path d="M652.20 389.20L642 379" stroke="#000" stroke-width="1" fill="none"/><path d="M657.5 394.5L654.11 387.29L650.29 391.11Z" fill="#000"/>
<g font-size="8.3">
<text x="675.7" y="100" fill="#0000ff" stroke="#0000ff" stroke-width="0.2" textLength="21.5" lengthAdjust="spacingAndGlyphs">187.53</text>
<text x="675.7" y="148" fill="#ff0000" stroke="#ff0000" stroke-width="0.2" textLength="21.5" lengthAdjust="spacingAndGlyphs">159.02</text>
<text x="620.5" y="239" fill="#6666ff" stroke="#6666ff" stroke-width="0.2" textLength="17.5" lengthAdjust="spacingAndGlyphs">80.64</text>
<text x="675.3" y="302" fill="#ff6666" stroke="#ff6666" stroke-width="0.2" textLength="17.8" lengthAdjust="spacingAndGlyphs">68.39</text>
<text x="616.5" y="376.9" fill="#000" stroke="#000" stroke-width="0.2" textLength="21.5" lengthAdjust="spacingAndGlyphs">12.215</text>
</g>
<g font-size="8.3" fill="#000" stroke="#000" stroke-width="0.22">
<text x="11.0" y="436.6" textLength="53.0" lengthAdjust="spacingAndGlyphs">RunFile_24.wp8</text>
<text x="67.3" y="436.6">[</text>
<text x="73.5" y="436.6" textLength="9.5" lengthAdjust="spacingAndGlyphs">At:</text>
<text x="88.0" y="436.6" textLength="26.0" lengthAdjust="spacingAndGlyphs">4:37:50</text>
<text x="117.4" y="436.6" textLength="11.2" lengthAdjust="spacingAndGlyphs">PM,</text>
<text x="133.0" y="436.6" textLength="40.4" lengthAdjust="spacingAndGlyphs">Wednesday,</text>
<text x="178.1" y="436.6" textLength="28.4" lengthAdjust="spacingAndGlyphs">February</text>
<text x="211.0" y="436.6" textLength="9.4" lengthAdjust="spacingAndGlyphs">14,</text>
<text x="224.4" y="436.6" textLength="15.2" lengthAdjust="spacingAndGlyphs">2024</text>
<text x="243.3" y="436.6">]</text>
<text x="249.6" y="436.6" textLength="21.7" lengthAdjust="spacingAndGlyphs">[Title:</text>
<text x="275.0" y="436.6">]</text>
<text x="285.0" y="436.6">[</text>
<text x="291.2" y="436.6" textLength="8.4" lengthAdjust="spacingAndGlyphs">As</text>
<text x="303.7" y="436.6" textLength="20.9" lengthAdjust="spacingAndGlyphs">tested</text>
<text x="329.1" y="436.6" textLength="7.2" lengthAdjust="spacingAndGlyphs">on</text>
<text x="340.5" y="436.6" textLength="25.0" lengthAdjust="spacingAndGlyphs">Dynojet</text>
<text x="370.5" y="436.6" textLength="17.6" lengthAdjust="spacingAndGlyphs">Model</text>
<text x="393.1" y="436.6" textLength="13.0" lengthAdjust="spacingAndGlyphs">250i</text>
<text x="410.1" y="436.6">]</text>
<text x="416.6" y="436.6">[</text>
<text x="422.7" y="436.6" textLength="11.0" lengthAdjust="spacingAndGlyphs">CF:</text>
<text x="438.7" y="436.6" textLength="12.9" lengthAdjust="spacingAndGlyphs">STD</text>
<text x="456.3" y="436.6" textLength="13.7" lengthAdjust="spacingAndGlyphs">1.04</text>
<text x="473.5" y="436.6">]</text>
<text x="480.1" y="436.6">[</text>
<text x="486.0" y="436.6" textLength="17.0" lengthAdjust="spacingAndGlyphs">RPM:</text>
<text x="507.5" y="436.6" textLength="30.6" lengthAdjust="spacingAndGlyphs">Inductive</text>
<text x="543.1" y="436.6">1</text>
<text x="549.8" y="436.6">]</text>
<text x="556.5" y="436.6">[</text>
<text x="562.4" y="436.6" textLength="13.0" lengthAdjust="spacingAndGlyphs">AFR</text>
<text x="579.9" y="436.6" textLength="25.2" lengthAdjust="spacingAndGlyphs">Source:</text>
<text x="609.6" y="436.6" textLength="33.4" lengthAdjust="spacingAndGlyphs">Dynoware</text>
<text x="647.5" y="436.6" textLength="8.1" lengthAdjust="spacingAndGlyphs">RT</text>
<text x="659.7" y="436.6" textLength="11.7" lengthAdjust="spacingAndGlyphs">WB</text>
<text x="675.6" y="436.6">]</text>
<text x="682.0" y="436.6" textLength="21.3" lengthAdjust="spacingAndGlyphs">Notes:</text>
<text x="707.9" y="436.6" textLength="33.1" lengthAdjust="spacingAndGlyphs">Akrapovic</text>
<text x="745.5" y="436.6" textLength="13.4" lengthAdjust="spacingAndGlyphs">EVO</text>
<text x="763.5" y="436.6" textLength="26.3" lengthAdjust="spacingAndGlyphs">Exhaust</text>
<text x="11.0" y="499.3" textLength="48.8" lengthAdjust="spacingAndGlyphs">RunFile_2.wp8</text>
<text x="63.5" y="499.3">[</text>
<text x="69.3" y="499.3" textLength="9.7" lengthAdjust="spacingAndGlyphs">At:</text>
<text x="84.3" y="499.3" textLength="29.8" lengthAdjust="spacingAndGlyphs">10:42:42</text>
<text x="117.8" y="499.3" textLength="11.6" lengthAdjust="spacingAndGlyphs">AM,</text>
<text x="133.6" y="499.3" textLength="40.4" lengthAdjust="spacingAndGlyphs">Wednesday,</text>
<text x="178.7" y="499.3" textLength="28.4" lengthAdjust="spacingAndGlyphs">February</text>
<text x="211.6" y="499.3" textLength="9.4" lengthAdjust="spacingAndGlyphs">14,</text>
<text x="225.0" y="499.3" textLength="15.2" lengthAdjust="spacingAndGlyphs">2024</text>
<text x="243.9" y="499.3">]</text>
<text x="250.2" y="499.3" textLength="21.7" lengthAdjust="spacingAndGlyphs">[Title:</text>
<text x="275.6" y="499.3">]</text>
<text x="285.6" y="499.3">[</text>
<text x="291.8" y="499.3" textLength="8.4" lengthAdjust="spacingAndGlyphs">As</text>
<text x="304.3" y="499.3" textLength="20.9" lengthAdjust="spacingAndGlyphs">tested</text>
<text x="329.7" y="499.3" textLength="7.2" lengthAdjust="spacingAndGlyphs">on</text>
<text x="341.1" y="499.3" textLength="25.0" lengthAdjust="spacingAndGlyphs">Dynojet</text>
<text x="371.1" y="499.3" textLength="17.6" lengthAdjust="spacingAndGlyphs">Model</text>
<text x="393.7" y="499.3" textLength="13.0" lengthAdjust="spacingAndGlyphs">250i</text>
<text x="410.7" y="499.3">]</text>
<text x="417.2" y="499.3">[</text>
<text x="423.3" y="499.3" textLength="11.0" lengthAdjust="spacingAndGlyphs">CF:</text>
<text x="439.3" y="499.3" textLength="12.9" lengthAdjust="spacingAndGlyphs">STD</text>
<text x="456.9" y="499.3" textLength="13.7" lengthAdjust="spacingAndGlyphs">1.02</text>
<text x="474.1" y="499.3">]</text>
<text x="480.7" y="499.3">[</text>
<text x="486.6" y="499.3" textLength="17.0" lengthAdjust="spacingAndGlyphs">RPM:</text>
<text x="508.1" y="499.3" textLength="30.6" lengthAdjust="spacingAndGlyphs">Inductive</text>
<text x="543.7" y="499.3">1</text>
<text x="550.4" y="499.3">]</text>
<text x="556.5" y="499.3" textLength="21.7" lengthAdjust="spacingAndGlyphs">Notes:</text>
<text x="582.7" y="499.3" textLength="15.4" lengthAdjust="spacingAndGlyphs">Bone</text>
<text x="602.8" y="499.3" textLength="19.2" lengthAdjust="spacingAndGlyphs">Stock</text>
<text x="11" y="446.7" textLength="53.7" lengthAdjust="spacingAndGlyphs">Sprint Air Filter</text>
<text x="11" y="456.8" textLength="61.6" lengthAdjust="spacingAndGlyphs">CS Dimple Stacks</text>
<text x="11" y="475.6" textLength="48.2" lengthAdjust="spacingAndGlyphs">FLASHED ECU</text>
</g>
<g shape-rendering="crispEdges"><rect x="11" y="430" width="4" height="5" fill="#0000ff"/><rect x="11" y="493" width="4" height="5" fill="#ff0000"/></g>
</svg></body></html>
